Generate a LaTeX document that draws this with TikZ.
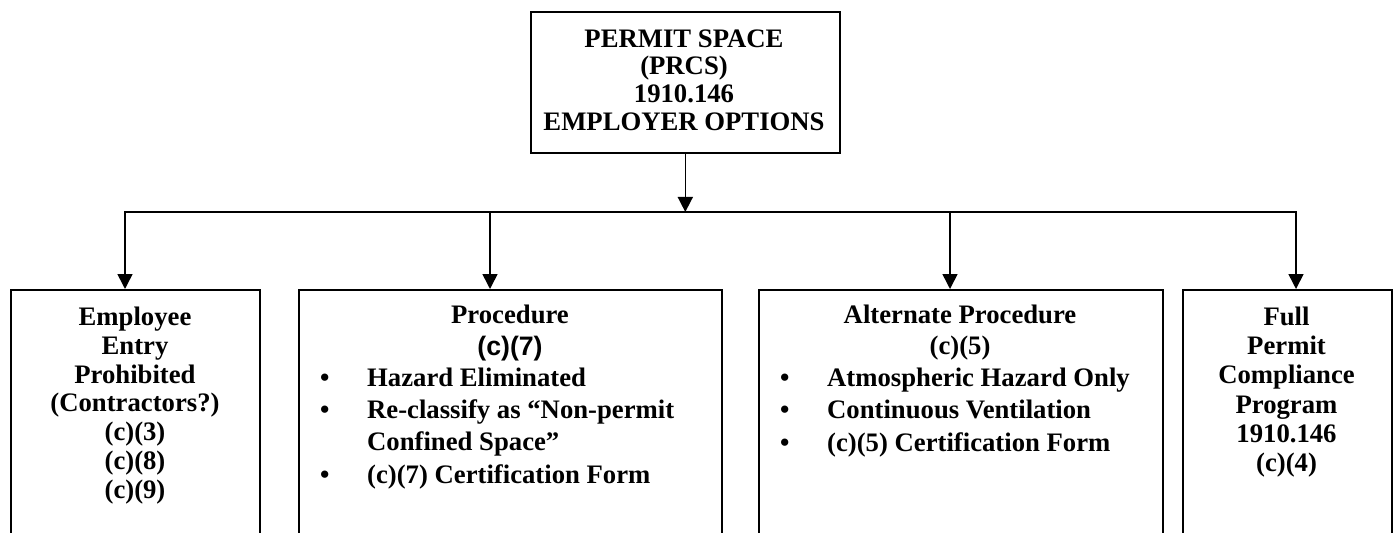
\documentclass[tikz,border=0pt]{standalone}
\usepackage{fontspec}
\setmainfont{Liberation Serif}
\newfontfamily\arialb{Liberation Sans}
\usetikzlibrary{arrows.meta}
\newcommand\fl{\rule{0pt}{20bp}}
\newcommand\bul{\makebox[47bp][l]{\textbullet}}
\begin{document}
\begin{tikzpicture}[x=1bp,y=-1bp,
  box/.style={draw, line width=1.6bp, inner sep=0, anchor=north west},
  txt/.style={inner sep=0, anchor=north, align=center,
    font=\bfseries\fontsize{26.7bp}{#1}\selectfont},
  txt/.default=29bp,
  lst/.style={inner sep=0, anchor=north west, align=left,
    font=\bfseries\fontsize{26.7bp}{#1}\selectfont},
  lst/.default=32.3bp,
  ln/.style={line width=1.6bp},
  arr/.style={line width=1.6bp, -{Triangle[width=15bp,length=15bp]}}
]
\useasboundingbox (0,0) rectangle (1393,533);
\clip (0,0) rectangle (1393,533);

% top box
\node[box, minimum width=309bp, minimum height=141bp] (top) at (530,11) {};
\node[txt=27.7bp] (toptext) at (684,27)
  {\fl PERMIT SPACE\\(PRCS)\\1910.146\\EMPLOYER OPTIONS};

% bottom boxes
\node[box, minimum width=249bp, minimum height=300bp] (b1) at (10,289) {};
\node[box, minimum width=423bp, minimum height=300bp] (b2) at (298,289) {};
\node[box, minimum width=404bp, minimum height=300bp] (b3) at (758,289) {};
\node[box, minimum width=209bp, minimum height=300bp] (b4) at (1182,289) {};

% texts
\node[txt=28.9bp] (t1) at (135,305)
  {\fl Employee\\Entry\\Prohibited\\(Contractors?)\\(c)(3)\\(c)(8)\\(c)(9)};
\node[txt=32bp] (t2) at (510,303)
  {\fl Procedure\\{\arialb (c)(7)}};
\node[lst=32.3bp] (l2) at (320,366)
  {\fl\bul Hazard Eliminated\\
   \bul Re-classify as ``Non-permit\\
   \hspace*{47bp}Confined Space''\\
   \bul (c)(7) Certification Form};
\node[txt=31bp] (t3) at (960,303)
  {\fl Alternate Procedure\\(c)(5)};
\node[lst=32.5bp] (l3) at (780,366)
  {\fl\bul Atmospheric Hazard Only\\
   \bul Continuous Ventilation\\
   \bul (c)(5) Certification Form};
\node[txt=29.3bp] (t4) at (1286.5,305)
  {\fl Full\\Permit\\Compliance\\Program\\1910.146\\(c)(4)};

% connectors
\coordinate (c1) at (125,212);
\coordinate (c2) at (490,212);
\coordinate (c3) at (950,212);
\coordinate (c4) at (1296,212);
\draw[arr] (top.south) -- (top.south |- c1);
\draw[arr] (c2) -| (c1 |- b1.north);
\draw[ln] (c2) -- (c3);
\draw[arr] (c3) -| (c4 |- b4.north);
\draw[arr] (c2) -- (c2 |- b2.north);
\draw[arr] (c3) -- (c3 |- b3.north);
\end{tikzpicture}
\end{document}
